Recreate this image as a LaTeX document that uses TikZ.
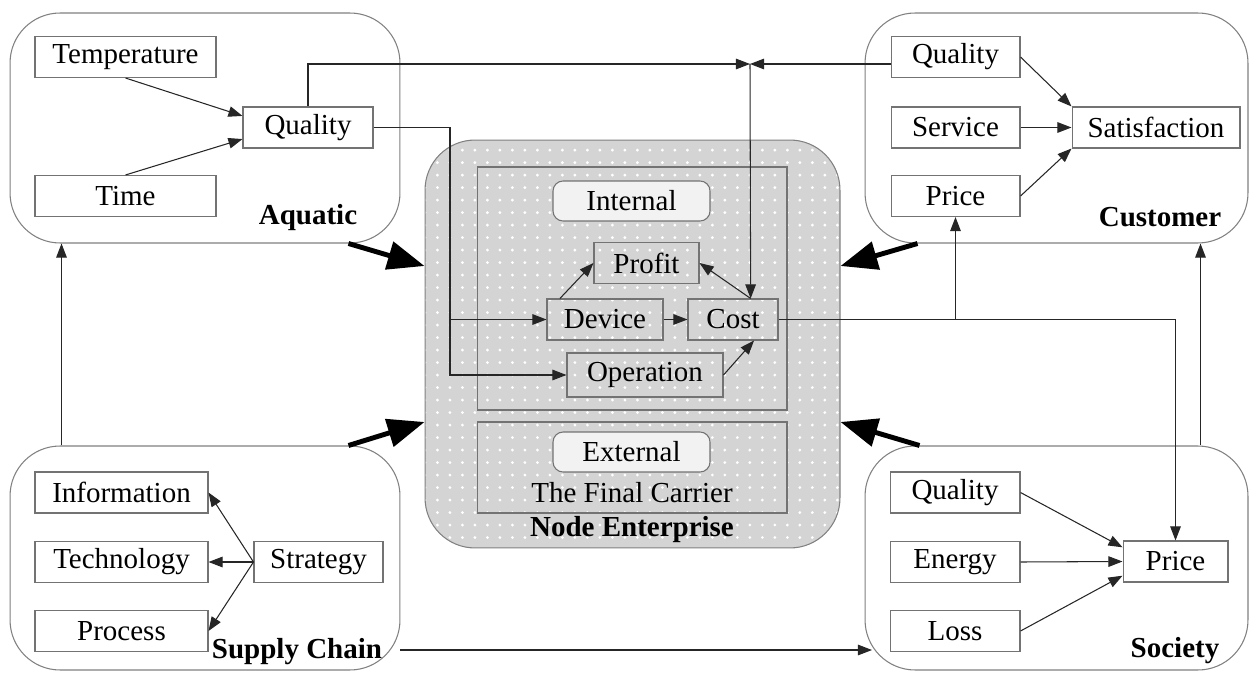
\documentclass[tikz,border=0pt]{standalone}
\usepackage{fontspec}
\setmainfont{Liberation Serif}
\usetikzlibrary{arrows.meta, calc, patterns.meta}

\definecolor{frame}{gray}{0.5}
\definecolor{edge}{gray}{0.45}
\definecolor{shade}{gray}{0.83}
\definecolor{tagfill}{gray}{0.95}

\tikzset{
  zone/.style={draw=frame, line width=0.6pt, rounded corners=1cm},
  fact/.style={draw=edge, fill=white, line width=0.6pt, minimum height=0.82cm, inner sep=1pt},
  part/.style={draw=edge, line width=0.6pt, minimum height=0.82cm, inner sep=1pt},
  tab/.style={draw=edge, fill=tagfill, line width=0.6pt, rounded corners=0.2cm, minimum width=3.14cm, minimum height=0.8cm},
  title/.style={font=\bfseries},
  link/.style={draw=black!85, line width=0.6pt, -{Triangle[length=8pt, width=6pt]}},
  push/.style={line width=2.8pt, -{Triangle[length=21pt, width=16pt]}}
}

\begin{document}
\fontsize{16.5}{19}\selectfont
\begin{tikzpicture}[x=0.02cm, y=-0.02cm]
\useasboundingbox (0,0) rectangle (1253,675);

\node[zone, minimum width=7.8cm, minimum height=4.6cm] (aqu) at (205,128) {};
\node[zone, minimum width=7.66cm, minimum height=4.6cm] (cus) at (1056.5,128) {};
\node[zone, minimum width=7.8cm, minimum height=4.48cm] (sup) at (205,558) {};
\node[zone, minimum width=7.66cm, minimum height=4.48cm] (soc) at (1056.5,558) {};
\node[title] (aqul) at (308,218) {Aquatic};
\node[title] (cusl) at (1160,217) {Customer};
\node[title] (supl) at (297,652) {Supply Chain};
\node[title] (socl) at (1175,651) {Society};

% node enterprise
\node[zone, preaction={fill=shade}, pattern={Dots[distance=0.25cm, radius=0.9pt]}, pattern color=white,
      minimum width=8.3cm, minimum height=8.16cm] (ent) at (632.5,344) {};
\node[draw=edge, line width=0.6pt, minimum width=6.2cm, minimum height=4.86cm] (intr) at (632,288.5) {};
\node[draw=edge, line width=0.6pt, minimum width=6.2cm, minimum height=1.82cm] (extr) at (632,467.5) {};

\node[tab] (intl) at (631.5,201) {Internal};
\node[part, minimum width=2.1cm] (prof) at (646.5,263) {Profit};
\node[part, minimum width=2.32cm] (dev) at (605,319.5) {Device};
\node[part, minimum width=1.8cm] (cost) at (733,319.5) {Cost};
\node[part, minimum width=3.12cm, minimum height=0.88cm] (oper) at (645,375) {Operation};
\node[tab] (extl) at (631.5,452) {External};
\node (carr) at (632,493) {The Final Carrier};
\node[title] (entl) at (632,530) {Node Enterprise};

\node[fact, minimum width=3.62cm] (temp) at (125.5,57) {Temperature};
\node[fact, minimum width=3.62cm] (time) at (125.5,196) {Time};
\node[fact, minimum width=2.6cm] (aq) at (308,127.5) {Quality};

\node[fact, minimum width=2.58cm] (cq) at (955.5,57) {Quality};
\node[fact, minimum width=2.58cm] (cs) at (955.5,127.5) {Service};
\node[fact, minimum width=2.58cm] (cp) at (955.5,196) {Price};
\node[fact, minimum width=3.36cm] (sat) at (1156,127.5) {Satisfaction};

\node[fact, minimum width=3.46cm] (inf) at (121.5,492.5) {Information};
\node[fact, minimum width=3.46cm] (tec) at (121.5,562) {Technology};
\node[fact, minimum width=3.46cm] (pro) at (121.5,631) {Process};
\node[fact, minimum width=2.58cm] (str) at (318.5,562) {Strategy};

\node[fact, minimum width=2.6cm] (sq) at (955,492.5) {Quality};
\node[fact, minimum width=2.6cm] (se) at (955,562) {Energy};
\node[fact, minimum width=2.6cm] (sl) at (955,631) {Loss};
\node[fact, minimum width=2.1cm] (sp) at (1175.5,561.5) {Price};

\coordinate (bow) at (750,64);
\coordinate (fork) at (450,375);
\coordinate (socin) at (872,650);

\draw[link] (temp.south) -- (aq.170);
\draw[link] (time.north) -- (aq.190);
\draw[link] (aq.north) |- (bow);
\draw[link] (cq.west |- bow) -- (bow);
\draw[link] (bow) -- (cost.50);
\draw[link] (aq.east) -| (fork) -- (oper.west);
\draw[link] (fork |- dev.west) -- (dev.west);
\draw[link] (dev.155) -- (prof.west);
\draw[link] (dev.east) -- (cost.west);
\draw[link] (cost.50) -- (prof.east);
\draw[link] (oper.east) -- (cost.-45);
\draw[link] (cost.east) -| (sp.north);
\draw[link] (cp.south |- cost.east) -- (cp.south);

\draw[link] (cq.east) -- (sat.north west);
\draw[link] (cs.east) -- (sat.west);
\draw[link] (cp.east) -- (sat.south west);

\draw[link] (str.west) -- (inf.east);
\draw[link] (str.west) -- (tec.east);
\draw[link] (str.west) -- (pro.east);

\draw[link] (sq.east) -- (sp.165);
\draw[link] (se.east) -- (sp.west);
\draw[link] (sl.east) -- (sp.195);

\draw[link] ($(sup.north west)+(52,0)$) -- ($(aqu.south west)+(52,0)$);
\draw[link] ($(soc.north east)+(-48,0)$) -- ($(cus.south east)+(-48,0)$);
\draw[link] (sup.east |- socin) -- (socin);

\draw[push] ($(aqu.south east)+(-52,0)$) -- (ent.west |- 0,266);
\draw[push] ($(sup.north east)+(-52,0)$) -- (ent.west |- 0,422);
\draw[push] ($(cus.south west)+(53,0)$) -- (ent.east |- 0,266);
\draw[push] ($(soc.north west)+(55,0)$) -- (ent.east |- 0,422);
\end{tikzpicture}
\end{document}
